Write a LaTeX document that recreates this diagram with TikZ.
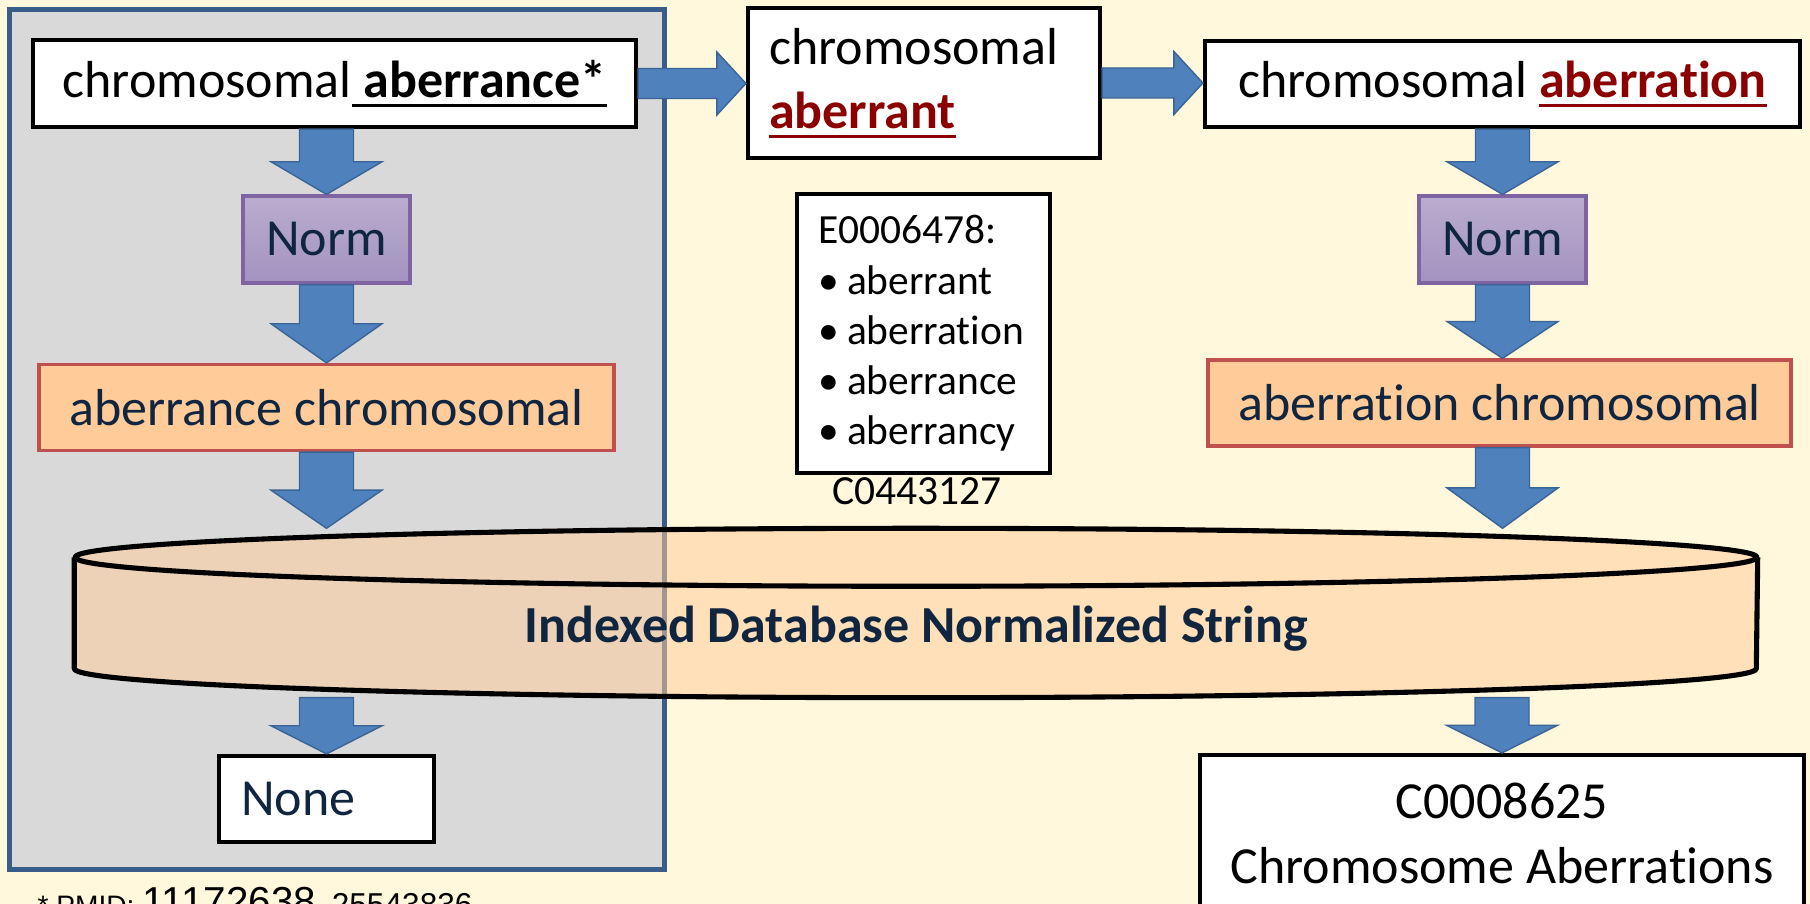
\documentclass[tikz,border=0pt]{standalone}
\usepackage{fontspec}
\setmainfont[Ligatures=NoCommon]{Carlito}
\newfontfamily\arialfont{Liberation Sans}
\usetikzlibrary{calc}

\definecolor{paper}{RGB}{255,248,220}
\definecolor{panelgrey}{RGB}{217,217,217}
\definecolor{panelblue}{RGB}{56,93,138}
\definecolor{arrowblue}{RGB}{79,129,189}
\definecolor{arrowedge}{RGB}{58,100,150}
\definecolor{normtop}{RGB}{186,173,206}
\definecolor{normbot}{RGB}{163,146,192}
\definecolor{normedge}{RGB}{128,100,162}
\definecolor{peach}{RGB}{255,204,153}
\definecolor{peachedge}{RGB}{192,80,77}
\definecolor{navy}{RGB}{16,37,63}
\definecolor{darkred}{RGB}{139,0,0}

\newcommand{\bigtext}{\fontsize{14.8}{18.3}\selectfont}
\newcommand{\smalltext}{\fontsize{11.8}{14.3}\selectfont}
\newsavebox\undlbox
\newcommand{\undl}[1]{\leavevmode\sbox\undlbox{#1}\rlap{\rule[-0.095cm]{\wd\undlbox}{0.03cm}}\usebox\undlbox}
\newcommand{\listitem}{\makebox[0.29cm][l]{\textbullet}}

\newcommand{\blockdown}[2]{%
  \path (#1) coordinate (abase) (#2) coordinate (atip);
  \coordinate (ahm) at ($(abase)!0.5!(atip)$);
  \draw[blockarrow] ($(abase)+(-0.27,0)$) -- ($(ahm)+(-0.27,0)$) -- ($(ahm)+(-0.555,0)$)
    -- (atip) -- ($(ahm)+(0.555,0)$) -- ($(ahm)+(0.27,0)$) -- ($(abase)+(0.27,0)$) -- cycle;}
\newcommand{\blockright}[2]{%
  \path (#1) coordinate (abase) (#2) coordinate (atip);
  \coordinate (ahm) at ($(atip)+(-0.29,0)$);
  \draw[blockarrow] ($(abase)+(0,0.15)$) -- ($(ahm)+(0,0.15)$) -- ($(ahm)+(0,0.315)$)
    -- (atip) -- ($(ahm)+(0,-0.315)$) -- ($(ahm)+(0,-0.15)$) -- ($(abase)+(0,-0.15)$) -- cycle;}

\tikzset{
  panel/.style={fill=panelgrey, draw=panelblue, line width=1.45pt},
  termbox/.style={draw=black, line width=1.2pt, fill=white, inner sep=0pt, font=\bigtext},
  listbox/.style={draw=black, line width=1.2pt, fill=white, inner sep=0pt, inner xsep=0.21cm,
    font=\smalltext, align=left, text width=2.11cm, minimum height=2.79cm},
  normbox/.style={draw=normedge, line width=0.9pt, top color=normtop, bottom color=normbot,
    minimum width=1.67cm, minimum height=0.87cm, inner sep=0pt, text=navy, font=\bigtext},
  keybox/.style={draw=peachedge, line width=0.9pt, fill=peach, minimum height=0.86cm,
    inner sep=0pt, text=navy, font=\bigtext},
  blockarrow/.style={fill=arrowblue, draw=arrowedge, line width=0.4pt},
  dbnode/.style={minimum width=16.82cm, minimum height=1.68cm, inner sep=0pt},
  dbfill/.style={fill=peach, fill opacity=0.53},
  dbline/.style={draw=black, line width=1.45pt, line join=round}
}

\begin{document}
\begin{tikzpicture}
  \useasboundingbox (0,0) rectangle (18.10,9.04);
  \fill[paper] (0,0) rectangle (18.10,9.04);
  \draw[panel] (0.095,0.345) rectangle (6.645,8.945);

  \node[termbox, minimum width=6.03cm, minimum height=0.87cm] (query) at (3.345,8.205) {chromosomal\undl{\ \textbf{aberrance*}}};
  \node[termbox, text width=3.10cm, inner xsep=0.21cm, align=left, minimum height=1.50cm] (variant) at (9.24,8.21) {chromosomal\\{\color{darkred}\undl{\textbf{aberrant}}}};
  \node[termbox, minimum width=5.95cm, minimum height=0.86cm] (match) at (15.025,8.20) {chromosomal {\color{darkred}\undl{\textbf{aberration}}}};

  \node[normbox] (norml) at (3.265,6.645) {Norm};
  \node[normbox] (normr) at (15.025,6.645) {Norm};
  \node[keybox, minimum width=5.75cm] (keyl) at (3.265,4.965) {aberrance chromosomal};
  \node[keybox, minimum width=5.83cm] (keyr) at (14.995,5.01) {aberration chromosomal};

  \node[listbox] (syn) at (9.235,5.705) {E0006478:\\\listitem aberrant\\\listitem aberration\\\listitem aberrance\\\listitem aberrancy};
  \node[font=\smalltext, anchor=base, inner sep=0pt] (cui) at (9.17,3.99) {C0443127};

  \node[dbnode] (db) at (9.16,2.91) {};

  \node[termbox, text=navy, text width=1.71cm, inner xsep=0.22cm, align=left, minimum height=0.86cm] (none) at (3.265,1.05) {None};
  \node[termbox, align=center, minimum width=6.04cm, minimum height=1.57cm] (concept) at (15.02,0.705) {C0008625\\Chromosome Aberrations};

  \blockright{query.east}{variant.west |- query.east}
  \blockright{variant.east}{match.west |- variant.east}

  \blockdown{norml.north |- query.south}{norml.north}
  \blockdown{norml.south}{keyl.north}
  \blockdown{keyl.south}{keyl.south |- db.north}
  \blockdown{none.north |- db.south}{none.north}

  \blockdown{normr.north |- match.south}{normr.north}
  \blockdown{normr.south}{normr.south |- keyr.north}
  \blockdown{normr.north |- keyr.south}{normr.north |- db.north}
  \blockdown{concept.north |- db.south}{concept.north}

  \fill[dbfill] ([yshift=-2.9mm]db.north west) -- ([yshift=2.9mm]db.south west)
    arc[start angle=180, end angle=360, x radius=8.41cm, y radius=0.29cm]
    -- ([yshift=-2.9mm]db.north east)
    arc[start angle=0, end angle=180, x radius=8.41cm, y radius=0.29cm] -- cycle;
  \draw[dbline] ([yshift=-2.9mm]db.north west) -- ([yshift=2.9mm]db.south west)
    arc[start angle=180, end angle=360, x radius=8.41cm, y radius=0.29cm]
    -- ([yshift=-2.9mm]db.north east);
  \draw[dbline] ([yshift=-2.9mm]db.north) ellipse [x radius=8.41cm, y radius=0.29cm];
  \node[anchor=base, inner sep=0pt, text=navy, font=\bigtext\bfseries] (dblabel) at (9.16,2.61) {Indexed Database Normalized String};

  \node[anchor=base west, inner sep=0pt, font=\arialfont\fontsize{8}{10}\selectfont] (pmid) at (0.37,-0.12) {* PMID: {\fontsize{11.5}{13}\selectfont 11172638}, {\fontsize{9}{11}\selectfont 25543836}};
\end{tikzpicture}
\end{document}
